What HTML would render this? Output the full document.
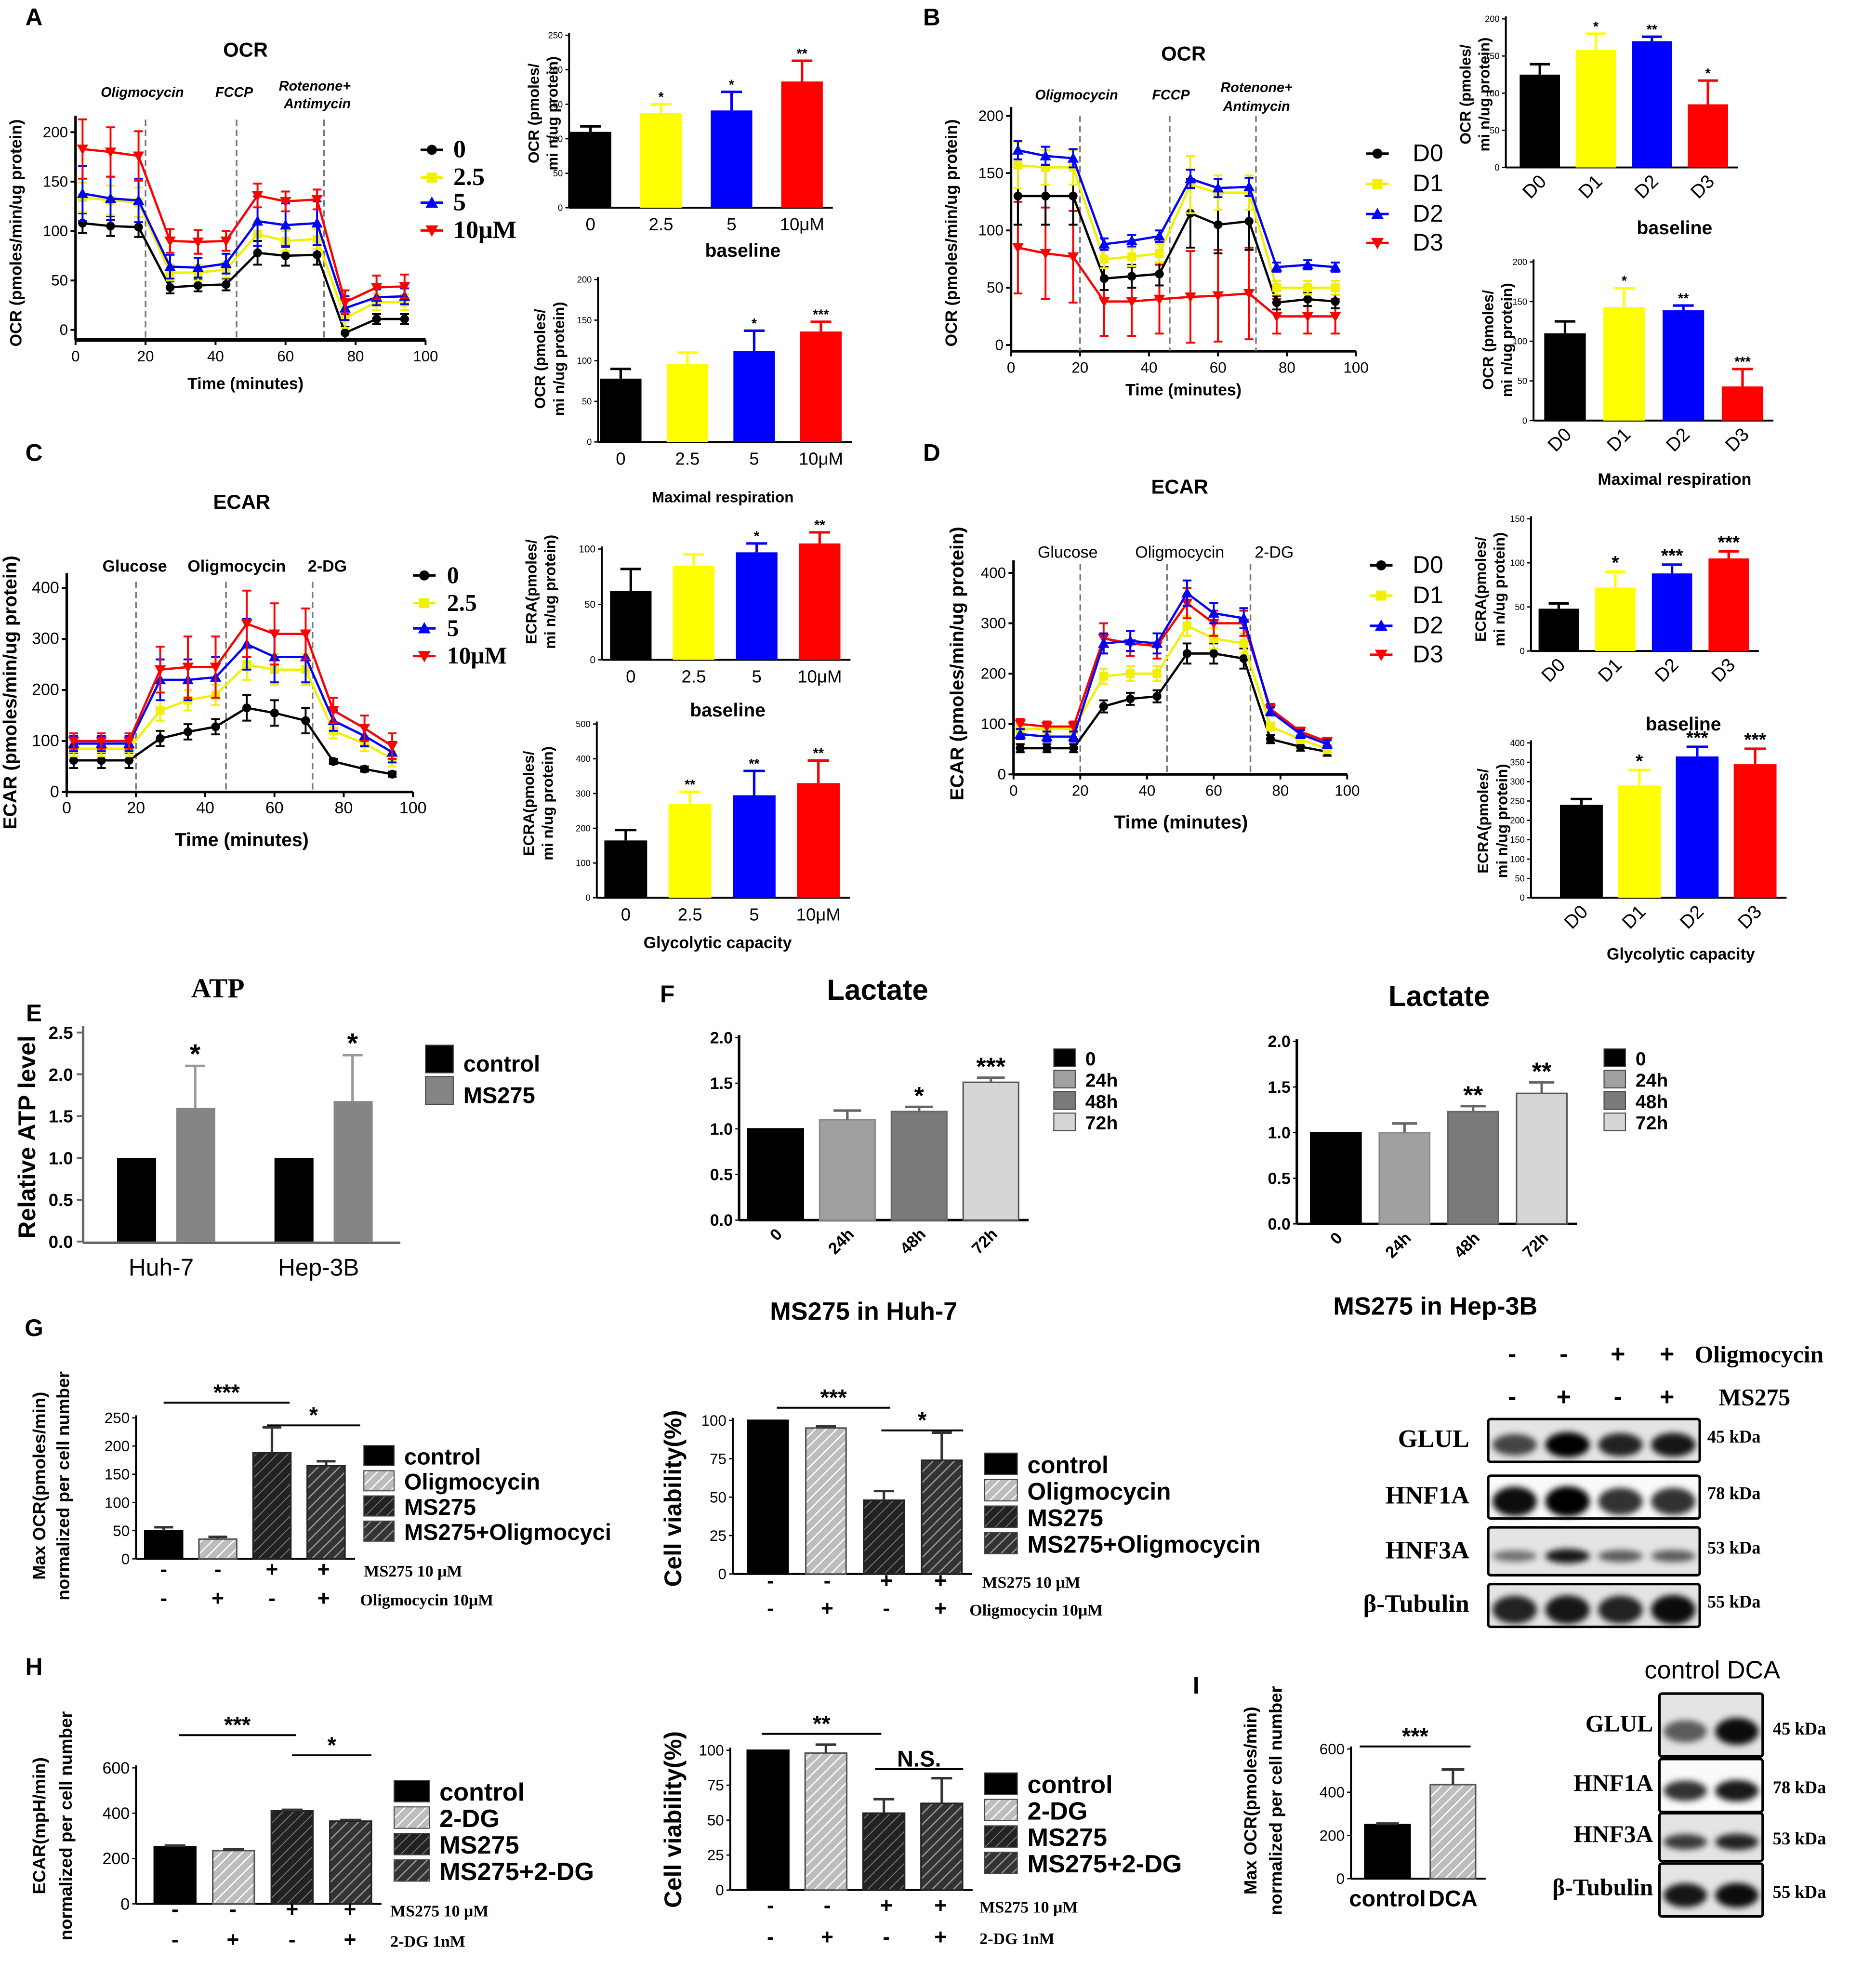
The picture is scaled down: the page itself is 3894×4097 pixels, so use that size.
<!DOCTYPE html>
<html><head><meta charset="utf-8"><style>
html,body{margin:0;padding:0;background:#fff;}
svg{display:block;}
text{font-family:"Liberation Sans",sans-serif;}
.serif{font-family:"Liberation Serif",serif;}
</style></head><body>
<svg id="fig" xmlns="http://www.w3.org/2000/svg" width="3894" height="4097" viewBox="0 0 1490 1567.7" preserveAspectRatio="none">
<defs>
<pattern id="hatchL" patternUnits="userSpaceOnUse" width="6" height="6" patternTransform="rotate(45)"><rect width="6" height="6" fill="#bdbdbd"/><line x1="0" y1="0" x2="0" y2="6" stroke="#fff" stroke-width="2"/></pattern>
<pattern id="hatchD" patternUnits="userSpaceOnUse" width="6" height="6" patternTransform="rotate(45)"><rect width="6" height="6" fill="#222"/><line x1="0" y1="0" x2="0" y2="6" stroke="#777" stroke-width="1.5"/></pattern>
<pattern id="hatchM" patternUnits="userSpaceOnUse" width="6" height="6" patternTransform="rotate(45)"><rect width="6" height="6" fill="#333"/><line x1="0" y1="0" x2="0" y2="6" stroke="#999" stroke-width="2"/></pattern>
<filter id="blur" x="-20%" y="-50%" width="140%" height="200%"><feGaussianBlur stdDeviation="2.5"/></filter>
</defs>
</svg>
<script>
// ---------- DATA ----------
const times = [2,10,18,27,35,43,52,60,69,77,86,94];
// Panel A OCR
const aS0 = [108,105,104,43,45,46,78,75,76,-3,11,11];
const aE0 = [10,10,10,6,6,6,12,10,10,6,5,5];
const aS25 = [134,131,129,58,58,61,97,90,92,12,28,28];
const aE25 = [15,15,15,8,8,8,12,10,10,10,8,8];
const aS5 = [138,133,131,64,63,67,110,106,108,22,33,34];
const aE5 = [28,22,22,12,10,10,25,22,22,12,8,8];
const aS10 = [183,180,176,90,89,90,136,130,132,28,43,44];
const aE10 = [30,25,25,12,12,10,12,10,10,12,12,12];
// Panel B OCR
const bS0 = [130,130,130,58,60,62,115,105,108,37,40,38];
const bE0 = [25,25,25,10,10,10,30,25,25,6,6,6];
const bS1 = [157,155,155,75,77,80,140,133,133,50,50,50];
const bE1 = [20,15,15,8,8,8,25,15,15,6,6,6];
const bS2 = [170,165,163,88,91,95,145,137,138,68,70,68];
const bE2 = [8,8,8,5,5,5,8,8,8,4,4,4];
const bS3 = [85,80,77,38,38,40,42,43,45,25,25,25];
const bE3 = [40,40,40,30,30,30,40,40,40,15,15,15];
// Panel C ECAR
const cS0 = [62,62,62,105,118,128,165,155,140,60,45,35];
const cE0 = [15,15,15,15,15,15,25,25,25,5,5,5];
const cS25 = [85,85,85,160,180,190,250,240,240,120,95,65];
const cE25 = [15,15,15,20,20,20,30,30,30,15,15,15];
const cS5 = [95,95,95,220,220,225,290,265,265,140,110,78];
const cE5 = [15,15,15,40,40,40,50,50,50,20,20,20];
const cS10 = [100,100,100,240,245,245,330,310,310,160,125,90];
const cE10 = [15,15,15,45,60,60,65,60,50,25,25,25];
// Panel D ECAR
const dS0 = [52,52,52,135,150,155,240,240,230,70,55,45];
const dE0 = [8,8,8,12,12,12,20,20,20,8,8,8];
const dS1 = [90,90,90,195,200,200,295,270,260,95,70,50];
const dE1 = [10,10,10,15,15,15,20,20,20,8,8,8];
const dS2 = [80,75,75,260,265,260,360,320,310,125,80,60];
const dE2 = [10,10,10,20,20,20,25,20,20,8,8,8];
const dS3 = [100,95,95,270,260,255,340,300,300,130,85,65];
const dE3 = [10,10,10,30,25,25,30,25,25,10,8,8];
// Bar charts
const doseCats = ['0','2.5','5','10μM'];
const dayCats = ['D0','D1','D2','D3'];
const aTopVals = [110,137,141,183]; const aTopErr = [8,13,27,30]; const aTopStars = ['','*','*','**'];
const aBotVals = [78,96,112,136]; const aBotErr = [12,14,25,12]; const aBotStars = ['','','*','***'];
const bTopVals = [125,158,170,85]; const bTopErr = [14,22,6,32]; const bTopStars = ['','*','**','*'];
const bBotVals = [110,143,139,43]; const bBotErr = [15,24,6,22]; const bBotStars = ['','*','**','***'];
const cTopVals = [62,85,97,105]; const cTopErr = [20,10,8,10]; const cTopStars = ['','','*','**'];
const cBotVals = [165,270,295,330]; const cBotErr = [30,35,70,65]; const cBotStars = ['','**','**','**'];
const dTopVals = [48,72,88,105]; const dTopErr = [6,18,10,8]; const dTopStars = ['','*','***','***'];
const dBotVals = [240,290,365,345]; const dBotErr = [15,40,25,40]; const dBotStars = ['','*','***','***'];
// E ATP
const eGroups = ['Huh-7','Hep-3B'];
const eControl = [1,1]; const eControlErr = [0,0];
const eMS = [1.6,1.68]; const eMSErr = [0.5,0.55]; const eStars = ['*','*'];
// F Lactate
const fCats = ['0','24h','48h','72h'];
const fHuh = [1,1.1,1.19,1.51]; const fHuhErr = [0,0.1,0.05,0.05]; const fHuhStars = ['','','*','***'];
const fHep = [1,1,1.23,1.43]; const fHepErr = [0,0.1,0.06,0.12]; const fHepStars = ['','','**','**'];
// G
const gOcr = [50,35,188,165]; const gOcrErr = [6,4,45,8];
const gVia = [100,95,48,74]; const gViaErr = [0,1,6,18];
// H
const hEcar = [252,235,410,365]; const hEcarErr = [5,5,5,5];
const hVia = [100,98,55,62]; const hViaErr = [0,6,10,18];
// I
const iCats = ['control','DCA'];
const iOcr = [250,435]; const iOcrErr = [5,70];
// Blot band intensities (0-1)
const gGLUL = [0.7,1,0.85,0.9]; const gHNF1A = [0.95,1,0.8,0.8]; const gHNF3A = [0.5,0.9,0.6,0.6]; const gTub = [0.85,0.9,0.85,0.95];
const iGLUL = [0.6,0.95]; const iHNF1A = [0.8,0.9]; const iHNF3A = [0.75,0.85]; const iTub = [0.9,0.95];

// ---------- HELPERS ----------
const NS='http://www.w3.org/2000/svg';
const svg=document.getElementById('fig');
function mk(tag,attrs,parent){const e=document.createElementNS(NS,tag);for(const k in attrs)e.setAttribute(k,attrs[k]);(parent||svg).appendChild(e);return e;}
function grp(name){const g=mk('g',{});


return g;}
function txt(p,x,y,s,o,name){const a=Object.assign({x:x,y:y,'font-size':12,'text-anchor':'middle',fill:'#000'},o||{});const e=mk('text',a,p);e.textContent=s;


return e;}
function rtxt(p,x,y,s,fs,name,weight){return txt(p,x,y,s,{'font-size':fs,'font-weight':weight||'bold',transform:'rotate(-90 '+x+' '+y+')'},name);}
function marker(p,type,x,y,c,s){s=s||4;
 if(type==='circle')return mk('circle',{cx:x,cy:y,r:s,fill:c},p);
 if(type==='square')return mk('rect',{x:x-s,y:y-s,width:2*s,height:2*s,fill:c},p);
 if(type==='up')return mk('polygon',{points:`${x},${y-s-1} ${x-s-1},${y+s} ${x+s+1},${y+s}`,fill:c},p);
 return mk('polygon',{points:`${x},${y+s+1} ${x-s-1},${y-s} ${x+s+1},${y-s}`,fill:c},p);}

function lineChart(c){
 const g=grp(c.name);
 const X=t=>c.ox+t/100*(c.x100-c.ox);
 const Y=v=>c.y0-v/c.vT*(c.y0-c.yT);
 mk('line',{x1:c.ox,y1:c.yAxTop,x2:c.ox,y2:c.xAxY,stroke:'#000','stroke-width':2},g);
 mk('line',{x1:c.ox,y1:c.xAxY,x2:c.x100,y2:c.xAxY,stroke:'#000','stroke-width':c.xw||2},g);
 c.yticks.forEach(t=>{mk('line',{x1:c.ox-4,y1:Y(t),x2:c.ox,y2:Y(t),stroke:'#000','stroke-width':1.5},g);
  txt(g,c.ox-6,Y(t)+4,String(t),{'font-size':c.tfs,'text-anchor':'end'},'y-tick-label');});
 [0,20,40,60,80,100].forEach(t=>{mk('line',{x1:X(t),y1:c.xAxY,x2:X(t),y2:c.xAxY+4,stroke:'#000','stroke-width':1.5},g);
  txt(g,X(t),c.xAxY+17,String(t),{'font-size':c.tfs},'x-tick-label');});
 c.vlines.forEach(t=>{const l=mk('line',{x1:X(t),y1:c.vTop,x2:X(t),y2:c.xAxY,stroke:'#777','stroke-width':1.3,'stroke-dasharray':'5,3'},g);
  
  });
 c.series.forEach(s=>{
  const sg=grp('series-'+s.label);g.appendChild(sg);
  mk('polyline',{points:times.map((t,i)=>X(t)+','+Y(s.v[i])).join(' '),fill:'none',stroke:s.c,'stroke-width':1.8},sg);
  times.forEach((t,i)=>{const x=X(t),y1=Y(s.v[i]-s.e[i]),y2=Y(s.v[i]+s.e[i]);
   mk('line',{x1:x,y1:y1,x2:x,y2:y2,stroke:s.c,'stroke-width':1.5},sg);
   mk('line',{x1:x-3.5,y1:y1,x2:x+3.5,y2:y1,stroke:s.c,'stroke-width':1.5},sg);
   mk('line',{x1:x-3.5,y1:y2,x2:x+3.5,y2:y2,stroke:s.c,'stroke-width':1.5},sg);
   marker(sg,s.m,x,Y(s.v[i]),s.c,3.5);});
 });
 return g;}

function barChart(c){
 const g=grp(c.name);
 const Y=v=>c.y0-v/c.vT*(c.y0-c.yT);
 const n=c.vals.length;
 const cx=i=>c.x0+i*c.step;
 mk('line',{x1:c.ax,y1:c.yT-2,x2:c.ax,y2:c.y0,stroke:'#000','stroke-width':c.aw||1.5},g);
 mk('line',{x1:c.ax,y1:c.y0,x2:cx(n-1)+c.bw/2+(c.xpad||8),y2:c.y0,stroke:'#000','stroke-width':c.aw||1.5},g);
 c.ticks.forEach(t=>{mk('line',{x1:c.ax-3,y1:Y(t),x2:c.ax,y2:Y(t),stroke:'#000','stroke-width':1},g);
  txt(g,c.ax-5,Y(t)+c.tfs*0.35,c.tickFmt?c.tickFmt(t):String(t),{'font-size':c.tfs,'text-anchor':'end','font-weight':c.tw||'normal'},'y-tick-label');});
 c.vals.forEach((v,i)=>{
  const x=cx(i);
  const r=mk('rect',{x:x-c.bw/2,y:Y(v),width:c.bw,height:c.y0-Y(v),fill:c.fills[i],stroke:c.strokes?c.strokes[i]:'none','stroke-width':1.2},g);
  
  
  const e=c.errs[i];
  if(e>0){const ec=c.errColor?c.errColor:c.fills[i].startsWith('url')?'#333':c.fills[i];
   mk('line',{x1:x,y1:Y(v),x2:x,y2:Y(v+e),stroke:ec,'stroke-width':2},g);
   mk('line',{x1:x-c.bw*0.25,y1:Y(v+e),x2:x+c.bw*0.25,y2:Y(v+e),stroke:ec,'stroke-width':2},g);}
  if(c.stars&&c.stars[i])txt(g,x,Y(v+e)-2,c.stars[i],{'font-size':c.sfs||12,'font-weight':'bold'},'significance-star');
  if(c.cats){
   if(c.rot) txt(g,x+6,c.y0+12,c.cats[i],{'font-size':c.cfs,'text-anchor':'end','font-weight':c.cw||'normal',transform:`rotate(-45 ${x+6} ${c.y0+12})`},'x-category-label');
   else txt(g,x,c.y0+c.cfs+4,c.cats[i],{'font-size':c.cfs,'font-weight':c.cw||'normal'},'x-category-label');}
 });
 return g;}

function bracket(p,x1,x2,y,s,fs){mk('line',{x1:x1,y1:y,x2:x2,y2:y,stroke:'#000','stroke-width':1.5},p);txt(p,(x1+x2)/2,y-2,s,{'font-size':fs||18,'font-weight':'bold'},'significance-bracket-label');}
function signRow(p,xs,signs,y,label,lx,fs){signs.forEach((s,i)=>txt(p,xs[i],y,s,{'font-size':fs||16,'font-weight':'bold'},'condition-sign'));txt(p,lx,y,label,{'font-size':13,'font-weight':'bold','text-anchor':'start',class:'serif'},'condition-label');}
function legendBox(p,x,y,fill,label,fs,w,h,name){const r=mk('rect',{x:x,y:y-h+3,width:w,height:h,fill:fill,stroke:'#444','stroke-width':0.8},p);
 
 
 txt(p,x+w+8,y+2,label,{'font-size':fs,'font-weight':'bold','text-anchor':'start'},'legend-label');}
function blot(p,x,y,w,h,ints,bh,noise,name){const g=grp(name);p.appendChild(g);
 mk('rect',{x:x,y:y,width:w,height:h,fill:noise?'#e4e4e4':'#fafafa',stroke:'#000','stroke-width':2,rx:2},g);
 const lw=w/ints.length;
 ints.forEach((v,i)=>{const e=mk('ellipse',{cx:x+lw*(i+0.5),cy:y+h*0.6,rx:lw*0.42,ry:bh*(0.5+v*0.5),fill:'#000','fill-opacity':Math.min(1,v),filter:'url(#blur)'},g);
  
  });
 return g;}

// ---------- PANEL LETTERS ----------
const letters=grp('panel-letters');
[['A',27,20],['B',740,20],['C',27,366],['D',740,366],['E',27,811],['F',530,796],['G',27,1061],['H',27,1330],['I',950,1345]].forEach(l=>txt(letters,l[1],l[2],l[0],{'font-size':19,'font-weight':'bold'},'panel-letter'));

// ---------- PANEL A ----------
const pa=grp('panel-a');
txt(pa,195,45,'OCR',{'font-size':16,'font-weight':'bold'},'chart-title');
txt(pa,113,77,'Oligmocycin',{'font-size':11,'font-weight':'bold','font-style':'italic'},'injection-label');
txt(pa,186,77,'FCCP',{'font-size':11,'font-weight':'bold','font-style':'italic'},'injection-label');
txt(pa,250,72,'Rotenone+',{'font-size':11,'font-weight':'bold','font-style':'italic'},'injection-label');
txt(pa,252,86,'Antimycin',{'font-size':11,'font-weight':'bold','font-style':'italic'},'injection-label');
rtxt(pa,17,185,'OCR (pmoles/min/ug protein)',13,'y-axis-title');
pa.appendChild(lineChart({name:'ocr-line-chart-a',ox:60,x100:338,y0:262,yT:105,vT:200,yAxTop:92,xAxY:270,xw:3,tfs:12,yticks:[0,50,100,150,200],vlines:[20,46,71],vTop:95,
 series:[{label:'0',v:aS0,e:aE0,c:'#000',m:'circle'},{label:'2.5',v:aS25,e:aE25,c:'#f0f000',m:'square'},{label:'5',v:aS5,e:aE5,c:'#00f',m:'up'},{label:'10',v:aS10,e:aE10,c:'#f00',m:'down'}]}));
txt(pa,195,309,'Time (minutes)',{'font-size':13,'font-weight':'bold'},'x-axis-title');
[['0','#000','circle',125],['2.5','#f0f000','square',147],['5','#00f','up',167],['10μM','#f00','down',189]].forEach(l=>{
 mk('line',{x1:334,y1:l[3]-6,x2:352,y2:l[3]-6,stroke:l[1],'stroke-width':2},pa);marker(pa,l[2],343,l[3]-6,l[1],4);
 txt(pa,360,l[3],l[0],{'font-size':20,'font-weight':'bold','text-anchor':'start',class:'serif'},'legend-label');});
pa.appendChild(barChart({name:'ocr-baseline-bars-a',ax:452,y0:165,yT:28,vT:250,ticks:[0,50,100,150,200,250],x0:469,step:56,bw:33,vals:aTopVals,errs:aTopErr,fills:['#000','#ffff00','#0000ff','#ff0000'],stars:aTopStars,cats:doseCats,cfs:14,tfs:7,sfs:11}));
txt(pa,590,204,'baseline',{'font-size':15,'font-weight':'bold'},'x-axis-title');
rtxt(pa,428,90,'OCR (pmoles/',12,'y-axis-title');rtxt(pa,443,90,'mi n/ug protein)',12,'y-axis-title');
pa.appendChild(barChart({name:'ocr-maximal-bars-a',ax:475,y0:351,yT:222,vT:200,ticks:[0,50,100,150,200],x0:493,step:53,bw:33,vals:aBotVals,errs:aBotErr,fills:['#000','#ffff00','#0000ff','#ff0000'],stars:aBotStars,cats:doseCats,cfs:14,tfs:7,sfs:11}));
rtxt(pa,433,285,'OCR (pmoles/',12,'y-axis-title');rtxt(pa,448,285,'mi n/ug protein)',12,'y-axis-title');

// ---------- PANEL B ----------
const pb=grp('panel-b');
txt(pb,940,48,'OCR',{'font-size':16,'font-weight':'bold'},'chart-title');
txt(pb,855,79,'Oligmocycin',{'font-size':11,'font-weight':'bold','font-style':'italic'},'injection-label');
txt(pb,930,79,'FCCP',{'font-size':11,'font-weight':'bold','font-style':'italic'},'injection-label');
txt(pb,998,73,'Rotenone+',{'font-size':11,'font-weight':'bold','font-style':'italic'},'injection-label');
txt(pb,998,88,'Antimycin',{'font-size':11,'font-weight':'bold','font-style':'italic'},'injection-label');
rtxt(pb,760,185,'OCR (pmoles/min/ug protein)',13,'y-axis-title');
pb.appendChild(lineChart({name:'ocr-line-chart-b',ox:803,x100:1077,y0:274,yT:92,vT:200,yAxTop:85,xAxY:279,tfs:12,yticks:[0,50,100,150,200],vlines:[20,46,71],vTop:92,
 series:[{label:'D3',v:bS3,e:bE3,c:'#f00',m:'down'},{label:'D0',v:bS0,e:bE0,c:'#000',m:'circle'},{label:'D1',v:bS1,e:bE1,c:'#f0f000',m:'square'},{label:'D2',v:bS2,e:bE2,c:'#00f',m:'up'}]}));
txt(pb,940,314,'Time (minutes)',{'font-size':13,'font-weight':'bold'},'x-axis-title');
[['D0','#000','circle',128],['D1','#f0f000','square',152],['D2','#00f','up',176],['D3','#f00','down',199]].forEach(l=>{
 mk('line',{x1:1085,y1:l[3]-6,x2:1103,y2:l[3]-6,stroke:l[1],'stroke-width':2},pb);marker(pb,l[2],1094,l[3]-6,l[1],4);
 txt(pb,1122,l[3],l[0],{'font-size':19,'text-anchor':'start'},'legend-label');});
pb.appendChild(barChart({name:'ocr-baseline-bars-b',ax:1196,y0:133,yT:15,vT:200,ticks:[0,50,100,150,200],x0:1223,step:44.5,bw:32,vals:bTopVals,errs:bTopErr,fills:['#000','#ffff00','#0000ff','#ff0000'],stars:bTopStars,cats:dayCats,rot:true,cfs:15,tfs:7,sfs:11}));
txt(pb,1330,186,'baseline',{'font-size':15,'font-weight':'bold'},'x-axis-title');
rtxt(pb,1168,75,'OCR (pmoles/',12,'y-axis-title');rtxt(pb,1183,75,'mi n/ug protein)',12,'y-axis-title');
pb.appendChild(barChart({name:'ocr-maximal-bars-b',ax:1218,y0:334,yT:208,vT:200,ticks:[0,50,100,150,200],x0:1243,step:47,bw:33,vals:bBotVals,errs:bBotErr,fills:['#000','#ffff00','#0000ff','#ff0000'],stars:bBotStars,cats:dayCats,rot:true,cfs:15,tfs:7,sfs:11}));
txt(pb,1330,385,'Maximal respiration',{'font-size':13,'font-weight':'bold'},'x-axis-title');
rtxt(pb,1186,270,'OCR (pmoles/',12,'y-axis-title');rtxt(pb,1201,270,'mi n/ug protein)',12,'y-axis-title');

// ---------- PANEL C ----------
const pc=grp('panel-c');
txt(pc,574,399,'Maximal respiration',{'font-size':12,'font-weight':'bold'},'x-axis-title');
txt(pc,192,404,'ECAR',{'font-size':16,'font-weight':'bold'},'chart-title');
txt(pc,107,454,'Glucose',{'font-size':13,'font-weight':'bold'},'injection-label');
txt(pc,188,454,'Oligmocycin',{'font-size':13,'font-weight':'bold'},'injection-label');
txt(pc,260,454,'2-DG',{'font-size':13,'font-weight':'bold'},'injection-label');
rtxt(pc,13,550,'ECAR (pmoles/min/ug protein)',15,'y-axis-title');
pc.appendChild(lineChart({name:'ecar-line-chart-c',ox:53,x100:328,y0:629,yT:467,vT:400,yAxTop:455,xAxY:629,tfs:13,yticks:[0,100,200,300,400],vlines:[20,46,71],vTop:462,
 series:[{label:'0',v:cS0,e:cE0,c:'#000',m:'circle'},{label:'2.5',v:cS25,e:cE25,c:'#f0f000',m:'square'},{label:'5',v:cS5,e:cE5,c:'#00f',m:'up'},{label:'10',v:cS10,e:cE10,c:'#f00',m:'down'}]}));
txt(pc,192,672,'Time (minutes)',{'font-size':15,'font-weight':'bold'},'x-axis-title');
[['0','#000','circle',463],['2.5','#f0f000','square',485],['5','#00f','up',505],['10μM','#f00','down',527]].forEach(l=>{
 mk('line',{x1:328,y1:l[3]-6,x2:346,y2:l[3]-6,stroke:l[1],'stroke-width':2},pc);marker(pc,l[2],337,l[3]-6,l[1],4);
 txt(pc,355,l[3],l[0],{'font-size':19,'font-weight':'bold','text-anchor':'start',class:'serif'},'legend-label');});
pc.appendChild(barChart({name:'ecar-baseline-bars-c',ax:478,y0:524,yT:436,vT:100,ticks:[0,50,100],x0:501,step:50,bw:33,vals:cTopVals,errs:cTopErr,fills:['#000','#ffff00','#0000ff','#ff0000'],stars:cTopStars,cats:doseCats,cfs:14,tfs:8,sfs:11}));
txt(pc,578,569,'baseline',{'font-size':15,'font-weight':'bold'},'x-axis-title');
rtxt(pc,426,470,'ECRA(pmoles/',12,'y-axis-title');rtxt(pc,441,470,'mi n/ug protein)',12,'y-axis-title');
pc.appendChild(barChart({name:'ecar-glycolytic-bars-c',ax:474,y0:713,yT:575,vT:500,ticks:[0,100,200,300,400,500],x0:497,step:51,bw:34,vals:cBotVals,errs:cBotErr,fills:['#000','#ffff00','#0000ff','#ff0000'],stars:cBotStars,cats:doseCats,cfs:14,tfs:7,sfs:11}));
txt(pc,570,753,'Glycolytic capacity',{'font-size':13,'font-weight':'bold'},'x-axis-title');
rtxt(pc,424,638,'ECRA(pmoles/',12,'y-axis-title');rtxt(pc,439,638,'mi n/ug protein)',12,'y-axis-title');

// ---------- PANEL D ----------
const pd=grp('panel-d');
txt(pd,937,392,'ECAR',{'font-size':16,'font-weight':'bold'},'chart-title');
txt(pd,848,443,'Glucose',{'font-size':13},'injection-label');
txt(pd,937,443,'Oligmocycin',{'font-size':13},'injection-label');
txt(pd,1012,443,'2-DG',{'font-size':13},'injection-label');
rtxt(pd,765,527,'ECAR (pmoles/min/ug protein)',15,'y-axis-title');
pd.appendChild(lineChart({name:'ecar-line-chart-d',ox:805,x100:1070,y0:615,yT:455,vT:400,yAxTop:445,xAxY:615,tfs:12,yticks:[0,100,200,300,400],vlines:[20,46,71],vTop:448,
 series:[{label:'D0',v:dS0,e:dE0,c:'#000',m:'circle'},{label:'D1',v:dS1,e:dE1,c:'#f0f000',m:'square'},{label:'D3',v:dS3,e:dE3,c:'#f00',m:'down'},{label:'D2',v:dS2,e:dE2,c:'#00f',m:'up'}]}));
txt(pd,938,658,'Time (minutes)',{'font-size':15,'font-weight':'bold'},'x-axis-title');
[['D0','#000','circle',455],['D1','#f0f000','square',479],['D2','#00f','up',503],['D3','#f00','down',526]].forEach(l=>{
 mk('line',{x1:1088,y1:l[3]-6,x2:1106,y2:l[3]-6,stroke:l[1],'stroke-width':2},pd);marker(pd,l[2],1097,l[3]-6,l[1],4);
 txt(pd,1122,l[3],l[0],{'font-size':19,'text-anchor':'start'},'legend-label');});
pd.appendChild(barChart({name:'ecar-baseline-bars-d',ax:1216,y0:517,yT:412,vT:150,ticks:[0,50,100,150],x0:1238,step:45,bw:32,vals:dTopVals,errs:dTopErr,fills:['#000','#ffff00','#0000ff','#ff0000'],stars:dTopStars,sfs:15,cats:dayCats,rot:true,cfs:15,tfs:7}));
txt(pd,1337,580,'baseline',{'font-size':15,'font-weight':'bold'},'x-axis-title');
rtxt(pd,1180,468,'ECRA(pmoles/',12,'y-axis-title');rtxt(pd,1195,468,'mi n/ug protein)',12,'y-axis-title');
pd.appendChild(barChart({name:'ecar-glycolytic-bars-d',ax:1216,y0:713,yT:590,vT:400,ticks:[0,50,100,150,200,250,300,350,400],x0:1256,step:46,bw:34,vals:dBotVals,errs:dBotErr,fills:['#000','#ffff00','#0000ff','#ff0000'],stars:dBotStars,sfs:15,cats:dayCats,rot:true,cfs:15,tfs:7}));
txt(pd,1335,762,'Glycolytic capacity',{'font-size':13,'font-weight':'bold'},'x-axis-title');
rtxt(pd,1182,652,'ECRA(pmoles/',12,'y-axis-title');rtxt(pd,1197,652,'mi n/ug protein)',12,'y-axis-title');

// ---------- PANEL E ----------
const pe=grp('panel-e');
txt(pe,173,792,'ATP',{'font-size':22,'font-weight':'bold',class:'serif'},'chart-title');
rtxt(pe,28,903,'Relative ATP level',19,'y-axis-title');
(function(){const Y=v=>986-v/2.5*(986-820);
 mk('line',{x1:66,y1:815,x2:66,y2:987,stroke:'#666','stroke-width':2},pe);
 mk('line',{x1:66,y1:987,x2:318,y2:987,stroke:'#666','stroke-width':2},pe);
 [0,0.5,1,1.5,2,2.5].forEach(t=>{mk('line',{x1:61,y1:Y(t),x2:66,y2:Y(t),stroke:'#666','stroke-width':1.5},pe);txt(pe,58,Y(t)+5,t.toFixed(1),{'font-size':14,'text-anchor':'end','font-weight':'bold'},'y-tick-label');});
 eGroups.forEach((gname,i)=>{const cx=108+i*125;
  const r1=mk('rect',{x:cx-15,y:Y(eControl[i]),width:31,height:986-Y(eControl[i]),fill:'#000'},pe);
  
  
  const mx=cx+47;
  const r2=mk('rect',{x:mx-15,y:Y(eMS[i]),width:31,height:986-Y(eMS[i]),fill:'#858585'},pe);
  
  
  mk('line',{x1:mx,y1:Y(eMS[i]),x2:mx,y2:Y(eMS[i]+eMSErr[i]),stroke:'#999','stroke-width':2},pe);
  mk('line',{x1:mx-8,y1:Y(eMS[i]+eMSErr[i]),x2:mx+8,y2:Y(eMS[i]+eMSErr[i]),stroke:'#999','stroke-width':2},pe);
  txt(pe,mx,Y(eMS[i]+eMSErr[i])-2,eStars[i],{'font-size':22,'font-weight':'bold'},'significance-star');
  txt(pe,cx+20,1013,gname,{'font-size':19},'x-category-label');});
})();
legendBox(pe,338,849,'#000','control',18,22,22,'legend-swatch-control');
legendBox(pe,338,874,'#858585','MS275',18,22,22,'legend-swatch-ms275');

// ---------- PANEL F ----------
const pf=grp('panel-f');
txt(pf,697,794,'Lactate',{'font-size':23,'font-weight':'bold'},'chart-title');
txt(pf,1143,799,'Lactate',{'font-size':23,'font-weight':'bold'},'chart-title');
const fFills=['#000','#a0a0a0','#7a7a7a','#d6d6d6'];
const fStrokes=['#000','#888','#666','#555'];
pf.appendChild(barChart({name:'lactate-bars-huh7',ax:587,y0:969,yT:824,vT:2,ticks:[0,0.5,1,1.5,2],tickFmt:t=>t.toFixed(1),tw:'bold',x0:616,step:57,bw:44,vals:fHuh,errs:fHuhErr,fills:fFills,strokes:fStrokes,errColor:'#666',stars:fHuhStars,sfs:20,cats:fCats,rot:true,cw:'bold',cfs:13,tfs:13,aw:2}));
pf.appendChild(barChart({name:'lactate-bars-hep3b',ax:1030,y0:972,yT:827,vT:2,ticks:[0,0.5,1,1.5,2],tickFmt:t=>t.toFixed(1),tw:'bold',x0:1061,step:54.5,bw:40,vals:fHep,errs:fHepErr,fills:fFills,strokes:fStrokes,errColor:'#666',stars:fHepStars,sfs:20,cats:fCats,rot:true,cw:'bold',cfs:13,tfs:13,aw:2}));
txt(pf,686,1048,'MS275 in Huh-7',{'font-size':20,'font-weight':'bold'},'x-axis-title');
txt(pf,1140,1044,'MS275 in Hep-3B',{'font-size':20,'font-weight':'bold'},'x-axis-title');
fCats.forEach((cat,i)=>{legendBox(pf,837,844+i*17,fFills[i],cat,15,17,14,'legend-swatch-'+cat);legendBox(pf,1274,844+i*17,fFills[i],cat,15,17,14,'legend-swatch-'+cat);});

// ---------- PANEL G ----------
const pg=grp('panel-g');
const gFills=['#000','url(#hatchL)','url(#hatchD)','url(#hatchM)'];
pg.appendChild(barChart({name:'max-ocr-bars-g',ax:108,y0:1238,yT:1126,vT:250,ticks:[0,50,100,150,200,250],x0:130,step:43,bw:30,vals:gOcr,errs:gOcrErr,fills:gFills,strokes:['#000','#555','#222','#222'],errColor:'#333',tfs:12,aw:1.5}));
rtxt(pg,36,1180,'Max OCR(pmoles/min)',14,'y-axis-title');rtxt(pg,55,1180,'normalized per cell number',14,'y-axis-title');
bracket(pg,130,230,1114,'***',18);bracket(pg,212,286,1132,'*',18);
['control','Oligmocycin','MS275','MS275+Oligmocyci'].forEach((l,i)=>legendBox(pg,289,1161+i*20,gFills[i],l,18,24,16,'legend-swatch-'+i));
signRow(pg,[130,173,216,257],['-','-','+','+'],1252,'MS275 10 μM',289,17);
signRow(pg,[130,173,216,257],['-','+','-','+'],1275,'Oligmocycin 10μM',286,17);
pg.appendChild(barChart({name:'cell-viability-bars-g',ax:582,y0:1250,yT:1128,vT:100,ticks:[0,25,50,75,100],x0:610,step:46,bw:32,vals:gVia,errs:gViaErr,fills:gFills,strokes:['#000','#555','#222','#222'],errColor:'#333',tfs:12,aw:1.5}));
rtxt(pg,541,1190,'Cell viability(%)',19,'y-axis-title');
bracket(pg,617,707,1118,'***',18);bracket(pg,700,765,1136,'*',18);
['control','Oligmocycin','MS275','MS275+Oligmocycin'].forEach((l,i)=>legendBox(pg,782,1168+i*21,gFills[i],l,19,26,17,'legend-swatch-'+i));
signRow(pg,[612,657,704,747],['-','-','+','+'],1261,'MS275 10 μM',780,17);
signRow(pg,[612,657,704,747],['-','+','-','+'],1283,'Oligmocycin 10μM',770,17);
// blots G
const bg=grp('western-blot-g');
signRow(bg,[1201,1242,1285,1324],['-','-','+','+'],1082,'Oligmocycin',1346,20);
signRow(bg,[1201,1242,1285,1324],['-','+','-','+'],1116,'MS275',1365,20);
bg.querySelectorAll('text[font-size="13"]').forEach(t=>t.setAttribute('font-size','19'));
[['GLUL',1127,34,gGLUL,10,true,'45 kDa'],['HNF1A',1172,34,gHNF1A,12,false,'78 kDa'],['HNF3A',1213,38,gHNF3A,6,true,'53 kDa'],['β-Tubulin',1258,34,gTub,12,true,'55 kDa']].forEach(r=>{
 blot(bg,1182,r[1],168,r[2],r[3],r[4],r[5],'blot-'+r[0]);
 txt(bg,1167,r[1]+r[2]*0.65,r[0],{'font-size':20,'font-weight':'bold','text-anchor':'end',class:'serif'},'blot-label');
 txt(bg,1356,r[1]+r[2]*0.55,r[6],{'font-size':14,'font-weight':'bold','text-anchor':'start',class:'serif'},'kda-label');});

// ---------- PANEL H ----------
const ph=grp('panel-h');
const hFills=['#000','url(#hatchL)','url(#hatchD)','url(#hatchM)'];
ph.appendChild(barChart({name:'ecar-bars-h',ax:108,y0:1512,yT:1404,vT:600,ticks:[0,200,400,600],x0:139,step:46.5,bw:33,vals:hEcar,errs:hEcarErr,fills:hFills,strokes:['#000','#555','#222','#222'],errColor:'#333',tfs:13,aw:1.5}));
rtxt(ph,36,1450,'ECAR(mpH/min)',14,'y-axis-title');rtxt(ph,57,1450,'normalized per cell number',14,'y-axis-title');
bracket(ph,142,235,1378,'***',18);bracket(ph,232,295,1394,'*',18);
['control','2-DG','MS275','MS275+2-DG'].forEach((l,i)=>legendBox(ph,313,1428+i*21,hFills[i],l,20,28,17,'legend-swatch-'+i));
signRow(ph,[139,185,232,278],['-','-','+','+'],1522,'MS275 10 μM',310,17);
signRow(ph,[139,185,232,278],['-','+','-','+'],1546,'2-DG 1nM',310,17);
ph.appendChild(barChart({name:'cell-viability-bars-h',ax:580,y0:1501,yT:1390,vT:100,ticks:[0,25,50,75,100],x0:610,step:46,bw:33,vals:hVia,errs:hViaErr,fills:hFills,strokes:['#000','#555','#222','#222'],errColor:'#333',tfs:12,aw:1.5}));
rtxt(ph,541,1445,'Cell viability(%)',19,'y-axis-title');
bracket(ph,605,700,1377,'**',18);bracket(ph,695,765,1405,'N.S.',18);
['control','2-DG','MS275','MS275+2-DG'].forEach((l,i)=>legendBox(ph,782,1422+i*21,hFills[i],l,20,26,17,'legend-swatch-'+i));
signRow(ph,[612,657,704,747],['-','-','+','+'],1519,'MS275 10 μM',778,17);
signRow(ph,[612,657,704,747],['-','+','-','+'],1544,'2-DG 1nM',778,17);

// ---------- PANEL I ----------
const pi=grp('panel-i');
pi.appendChild(barChart({name:'max-ocr-bars-i',ax:1073,y0:1492,yT:1389,vT:600,ticks:[0,200,400,600],x0:1102,step:52,bw:36,vals:iOcr,errs:iOcrErr,fills:['#000','url(#hatchL)'],strokes:['#000','#555'],errColor:'#333',cats:iCats,cfs:18,cw:'bold',tfs:12,aw:1.5}));
rtxt(pi,998,1430,'Max OCR(pmoles/min)',14,'y-axis-title');rtxt(pi,1018,1430,'normalized per cell number',14,'y-axis-title');
bracket(pi,1080,1168,1387,'***',18);
txt(pi,1360,1333,'control DCA',{'font-size':20},'lane-header');
[['GLUL',1345,50,iGLUL,11,true,'45 kDa'],['HNF1A',1397,42,iHNF1A,9,false,'78 kDa'],['HNF3A',1440,38,iHNF3A,7,true,'53 kDa'],['β-Tubulin',1480,42,iTub,10,true,'55 kDa']].forEach(r=>{
 blot(pi,1318,r[1],82,r[2],r[3],r[4],r[5],'blot-i-'+r[0]);
 txt(pi,1313,r[1]+r[2]*0.6,r[0],{'font-size':19,'font-weight':'bold','text-anchor':'end',class:'serif'},'blot-label');
 txt(pi,1408,r[1]+r[2]*0.65,r[6],{'font-size':14,'font-weight':'bold','text-anchor':'start',class:'serif'},'kda-label');});
</script>
</body></html>
